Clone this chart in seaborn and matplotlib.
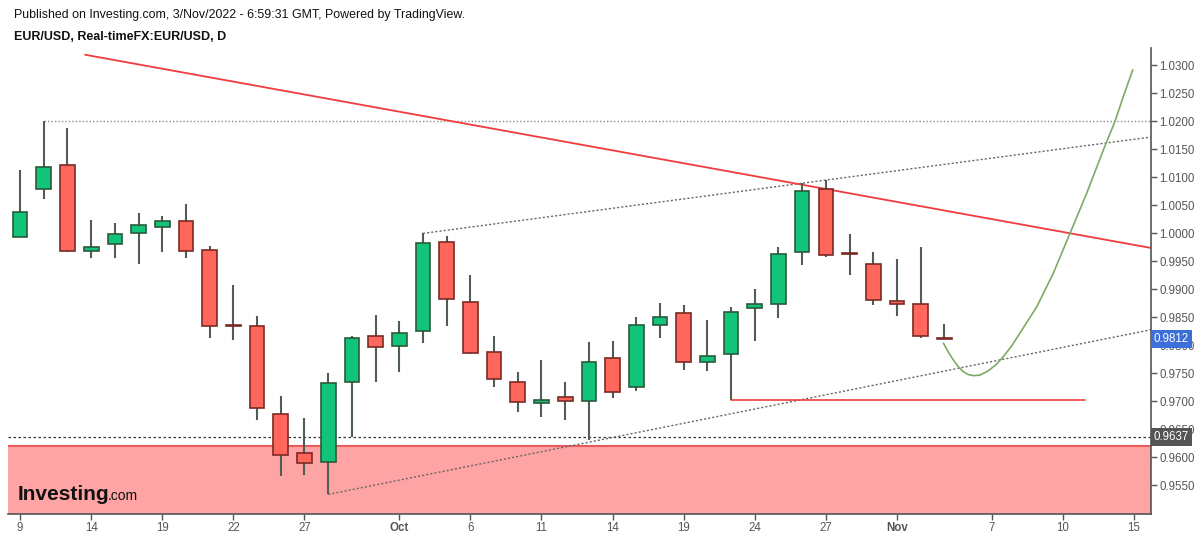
import numpy as np
import pandas as pd
import matplotlib
matplotlib.use('Agg')
import matplotlib.pyplot as plt
import seaborn as sns

# EUR/USD daily candles, Sep 9 - Nov 3 2022
opens = [0.9994, 1.0080, 1.0122, 0.9969, 0.9981, 1.0000, 1.0012, 1.0022, 0.9971, 0.9836,
         0.9835, 0.9677, 0.9608, 0.9591, 0.9734, 0.9816, 0.9799, 0.9826, 0.9985, 0.9878,
         0.9789, 0.9734, 0.9698, 0.9707, 0.9700, 0.9777, 0.9725, 0.9837, 0.9857, 0.9771,
         0.9784, 0.9866, 0.9874, 0.9966, 1.0079, 0.9964, 0.9946, 0.9880, 0.9874, 0.9814]
highs = [1.0113, 1.0200, 1.0189, 1.0024, 1.0019, 1.0037, 1.0031, 1.0052, 0.9978, 0.9907,
         0.9853, 0.9709, 0.9671, 0.9750, 0.9816, 0.9854, 0.9844, 1.0000, 0.9996, 0.9926,
         0.9816, 0.9753, 0.9774, 0.9734, 0.9806, 0.9807, 0.9851, 0.9875, 0.9872, 0.9845,
         0.9868, 0.9900, 0.9976, 1.0090, 1.0095, 0.9999, 0.9966, 0.9955, 0.9976, 0.9838]
lows = [0.9994, 1.0062, 0.9966, 0.9956, 0.9956, 0.9946, 0.9966, 0.9956, 0.9814, 0.9810,
        0.9667, 0.9566, 0.9568, 0.9534, 0.9636, 0.9734, 0.9752, 0.9805, 0.9834, 0.9784,
        0.9725, 0.9682, 0.9672, 0.9667, 0.9631, 0.9707, 0.9718, 0.9813, 0.9756, 0.9755,
        0.9703, 0.9807, 0.9849, 0.9944, 0.9958, 0.9926, 0.9872, 0.9853, 0.9813, 0.9812]
closes = [1.0038, 1.0119, 0.9969, 0.9976, 0.9999, 1.0015, 1.0022, 0.9969, 0.9835, 0.9835,
          0.9689, 0.9604, 0.9590, 0.9733, 0.9813, 0.9798, 0.9822, 0.9983, 0.9883, 0.9786,
          0.9740, 0.9699, 0.9702, 0.9701, 0.9771, 0.9716, 0.9837, 0.9850, 0.9770, 0.9781,
          0.9859, 0.9874, 0.9964, 1.0076, 0.9961, 0.9963, 0.9881, 0.9874, 0.9816, 0.9812]

# x axis labels (bar index -> label)
tick_pos = [0, 3, 6, 9, 12, 16, 19, 22, 25, 28, 31, 34, 37, 41, 44, 47]
tick_lab = ['9', '14', '19', '22', '27', 'Oct', '6', '11', '14', '19', '24', '27', 'Nov', '7', '10', '15']
y_ticks = [0.9550, 0.9600, 0.9650, 0.9700, 0.9750, 0.9800, 0.9850, 0.9900, 0.9950,
           1.0000, 1.0050, 1.0100, 1.0150, 1.0200, 1.0250, 1.0300]

# drawings
red_trend = ([2.74, 47.72], [1.0319, 0.9974])
upper_channel = ([17, 47.72], [1.0000, 1.0172])
lower_channel = ([13, 47.72], [0.9534, 0.9828])
resist_level = 1.0200
support_level = 0.9637
red_support = ([30, 44.94], 0.9703)
zone_top = 0.9620
curve_x = [38.96, 39.17, 39.38, 39.59, 39.80, 40.01, 40.22, 40.50, 40.79, 41.14, 41.49,
           41.84, 42.19, 42.90, 43.60, 44.30, 45.01, 45.71, 46.20, 46.55, 46.95]
curve_y = [0.9804, 0.9788, 0.9774, 0.9762, 0.9753, 0.9748, 0.9746, 0.9747, 0.9753, 0.9764, 0.9780,
           0.9799, 0.9822, 0.9869, 0.9929, 1.0000, 1.0072, 1.0149, 1.0200, 1.0244, 1.0292]
last_price = 0.9812

sns.set_style("white")
plt.rcParams['font.family'] = ['Liberation Sans', 'DejaVu Sans']

fig = plt.figure(figsize=(12, 5.37), dpi=100)
ax = fig.add_axes([8 / 1200, 23 / 537, 1143 / 1200, 466 / 537])
xmin, xmax = -0.51, 47.72
ymin, ymax = 0.9499, 1.0331

df = pd.DataFrame({'o': opens, 'h': highs, 'l': lows, 'c': closes})
df['i'] = np.arange(len(df))
up = df['c'] >= df['o']

# zone + levels
ax.fill_between([xmin, xmax], ymin, zone_top, color='#ffa4a4', lw=0, zorder=0)
ax.plot([xmin, xmax], [zone_top, zone_top], color='#ee5a5a', lw=1.5, zorder=1)
ax.plot([xmin, xmax], [support_level] * 2, color='#333333', lw=0.9, ls=(0, (2, 2)), zorder=1)
ax.plot([1, xmax], [resist_level] * 2, color='#888888', lw=1, ls=(0, (1, 1.5)), zorder=1)
ax.plot(*upper_channel, color='#666666', lw=1, ls=(0, (1.5, 1.5)), zorder=1)
ax.plot(*lower_channel, color='#666666', lw=1, ls=(0, (1.5, 1.5)), zorder=1)
ax.plot(*red_trend, color='#f03c3c', lw=1.3, zorder=1)
ax.plot(red_support[0], [red_support[1]] * 2, color='#f03c3c', lw=1.2, zorder=1)

# candles
ax.vlines(df['i'], df['l'], df['h'], color='#4e5e55', lw=1.5, zorder=2)
body_bot = df[['o', 'c']].min(axis=1)
body_h = (df['c'] - df['o']).abs().clip(lower=0.0002)
ax.bar(df.loc[up, 'i'], body_h[up], bottom=body_bot[up], width=0.62,
       color='#12c47a', edgecolor='#2c5a3c', lw=1.2, zorder=3)
ax.bar(df.loc[~up, 'i'], body_h[~up], bottom=body_bot[~up], width=0.62,
       color='#ff665c', edgecolor='#7a2a24', lw=1.2, zorder=3)

# projected path
sns.lineplot(x=curve_x, y=curve_y, ax=ax, color='#7daa66', lw=1.2, zorder=4)

ax.set_xlim(xmin, xmax)
ax.set_ylim(ymin, ymax)
ax.set_xticks(tick_pos)
ax.set_xticklabels(tick_lab)
for lab in ax.get_xticklabels():
    if lab.get_text() in ('Oct', 'Nov'):
        lab.set_fontweight('bold')
ax.set_yticks(y_ticks)
ax.set_yticklabels(['%.4f' % v for v in y_ticks])
ax.yaxis.tick_right()
ax.tick_params(axis='both', length=4, width=1, color='#555555', labelcolor='#555555',
               labelsize=8.3, pad=2, direction='out')
ax.tick_params(axis='x', bottom=True)
ax.tick_params(axis='y', right=True, left=False)
for s in ['top', 'left']:
    ax.spines[s].set_visible(False)
for s in ['bottom', 'right']:
    ax.spines[s].set_color('#555555')
    ax.spines[s].set_linewidth(1.2)

# price labels on axis
for val, col in [(last_price, '#3d6fdb'), (support_level, '#555555')]:
    ax.annotate('%.4f' % val, xy=(1.0, val), xycoords=('axes fraction', 'data'),
                xytext=(2, 0), textcoords='offset points', va='center', ha='left',
                color='white', fontsize=8.3, zorder=10, annotation_clip=False,
                bbox=dict(boxstyle='square,pad=0.25', fc=col, ec='none'))

# header
fig.text(14 / 1200, 1 - 15 / 537, 'Published on Investing.com, 3/Nov/2022 - 6:59:31 GMT, Powered by TradingView.',
         fontsize=8.9, va='center', ha='left', color='#111111')
fig.text(14 / 1200, 1 - 37 / 537, 'EUR/USD, Real-timeFX:EUR/USD, D',
         fontsize=9, fontweight='bold', va='center', ha='left', color='#111111')

# watermark
fig.text(18 / 1200, 1 - 500 / 537, 'Investing', fontsize=15, fontweight='bold',
         color='#111111', ha='left', va='baseline')
fig.text(108 / 1200, 1 - 500 / 537, '.com', fontsize=10, color='#111111', ha='left', va='baseline')

plt.savefig('out.png', dpi=100)
